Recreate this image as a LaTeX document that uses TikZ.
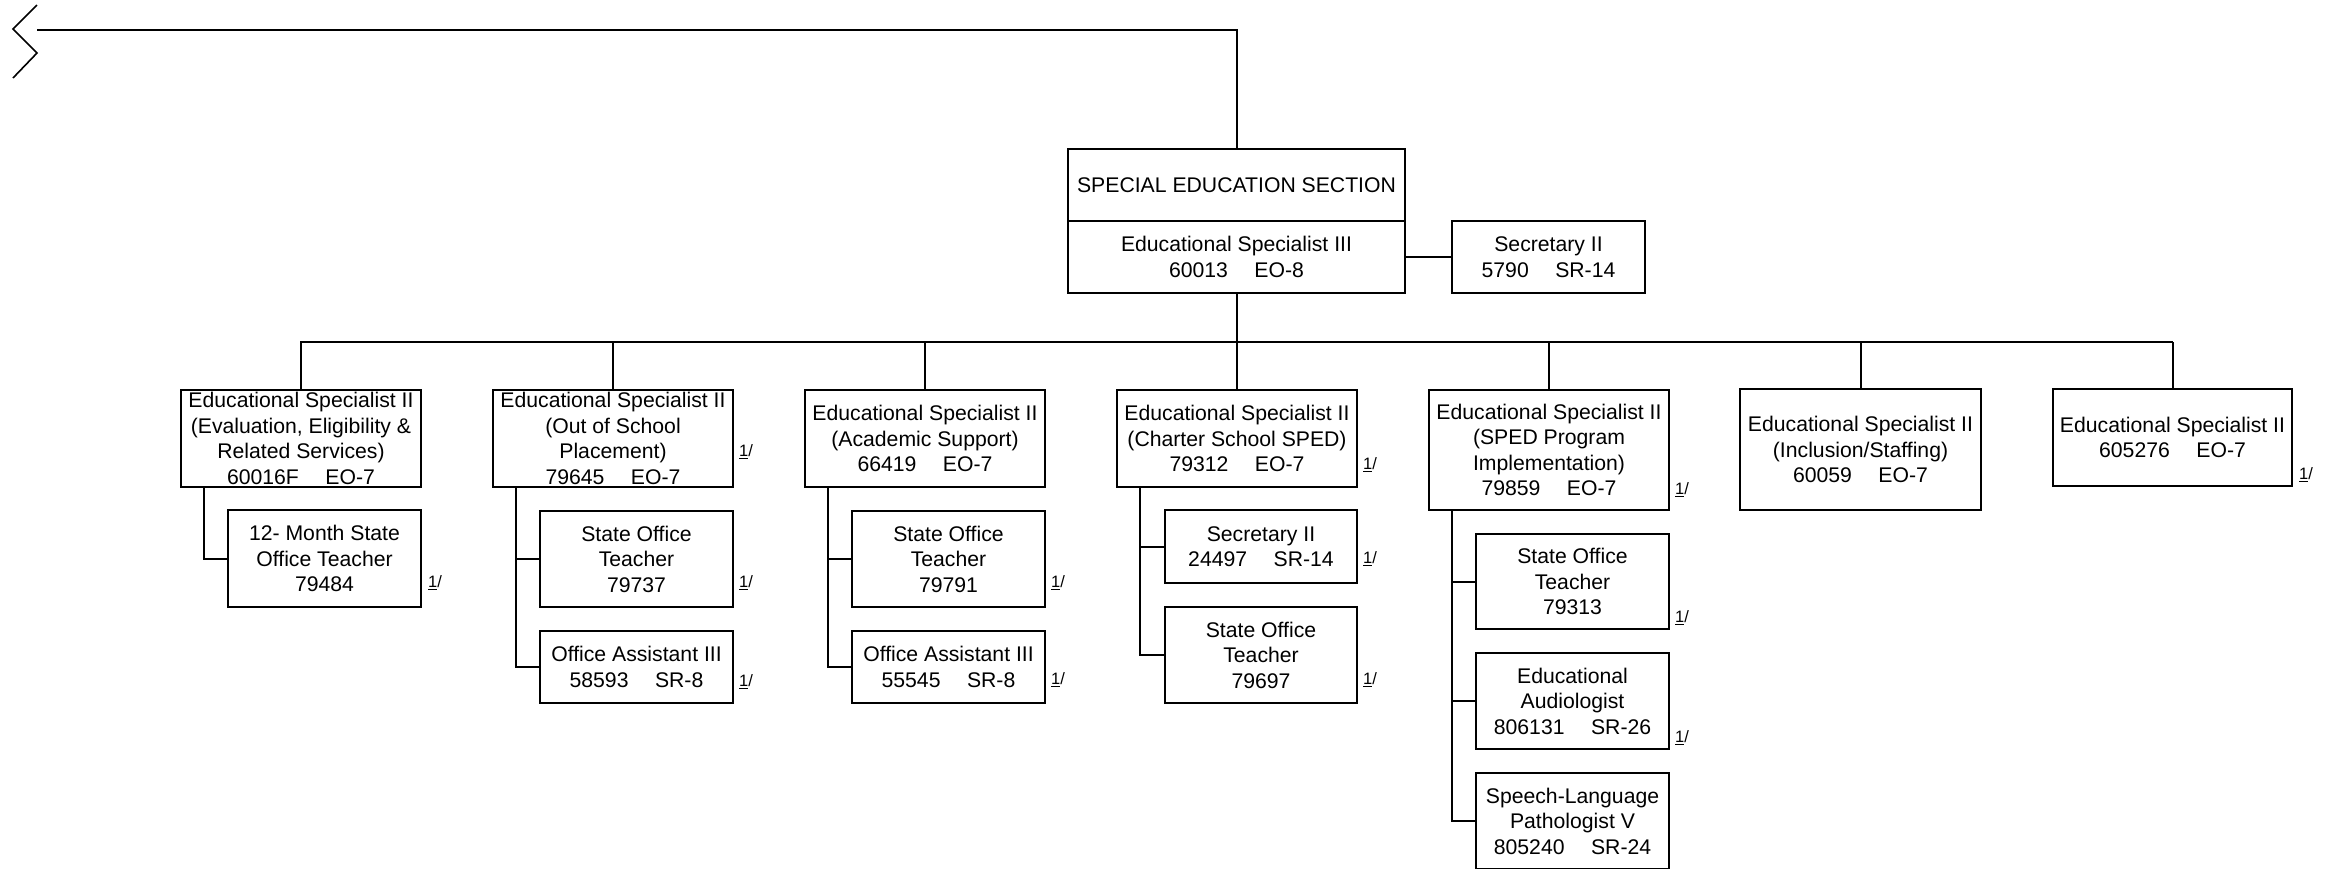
\documentclass[tikz,border=0pt]{standalone}
\usepackage{fontspec}
\setmainfont{Liberation Sans}
\usetikzlibrary{calc}
\newcommand\tabgap{\hspace{1.25em}}
\newcommand\fn{\underline{1}/}
\tikzset{
  box/.style={draw, line width=2.6pt, rectangle, inner sep=0pt, align=center,
    font=\fontsize{21.2}{25.5}\selectfont},
  conn/.style={line width=2pt},
  note/.style={anchor=west, inner sep=0pt, font=\fontsize{16.5}{17}\selectfont}
}
\begin{document}
\begin{tikzpicture}[x=1pt,y=-1pt]
\useasboundingbox (0,0) rectangle (2331,868);
% top
\node[box, minimum width=337pt, minimum height=72pt] (sped) at (1236.5,185) {SPECIAL EDUCATION SECTION};
\node[box, minimum width=337pt, minimum height=72pt] (es3) at (1236.5,257) {Educational Specialist III\\60013\tabgap EO-8};
\node[box, minimum width=193pt, minimum height=72pt] (sec) at (1548.5,257) {Secretary II\\5790\tabgap SR-14};
% level 2
\node[box, minimum width=240pt, minimum height=97pt] (b1) at (301,438.5) {Educational Specialist II\\(Evaluation, Eligibility \&\\Related Services)\\60016F\tabgap EO-7};
\node[box, minimum width=240pt, minimum height=97pt] (b2) at (613,438.5) {Educational Specialist II\\(Out of School\\Placement)\\79645\tabgap EO-7};
\node[box, minimum width=240pt, minimum height=97pt] (b3) at (925,438.5) {Educational Specialist II\\(Academic Support)\\66419\tabgap EO-7};
\node[box, minimum width=240pt, minimum height=97pt] (b4) at (1237,438.5) {Educational Specialist II\\(Charter School SPED)\\79312\tabgap EO-7};
\node[box, minimum width=240pt, minimum height=120pt] (b5) at (1549,450) {Educational Specialist II\\(SPED Program\\Implementation)\\79859\tabgap EO-7};
\node[box, minimum width=241pt, minimum height=121pt] (b6) at (1860.5,449.5) {Educational Specialist II\\(Inclusion/Staffing)\\60059\tabgap EO-7};
\node[box, minimum width=239pt, minimum height=97pt] (b7) at (2172.5,437.5) {Educational Specialist II\\605276\tabgap EO-7};
% children
\node[box, minimum width=193pt, minimum height=97pt] (c1) at (324.5,558.5) {12- Month State\\Office Teacher\\79484};
\node[box, minimum width=193pt, minimum height=96pt] (c2a) at (636.5,559) {State Office\\Teacher\\79737};
\node[box, minimum width=193pt, minimum height=72pt] (c2b) at (636.5,667) {Office Assistant III\\58593\tabgap SR-8};
\node[box, minimum width=193pt, minimum height=96pt] (c3a) at (948.5,559) {State Office\\Teacher\\79791};
\node[box, minimum width=193pt, minimum height=72pt] (c3b) at (948.5,667) {Office Assistant III\\55545\tabgap SR-8};
\node[box, minimum width=192pt, minimum height=73pt] (c4a) at (1261,546.5) {Secretary II\\24497\tabgap SR-14};
\node[box, minimum width=192pt, minimum height=96pt] (c4b) at (1261,655) {State Office\\Teacher\\79697};
\node[box, minimum width=193pt, minimum height=95pt] (c5a) at (1572.5,581.5) {State Office\\Teacher\\79313};
\node[box, minimum width=193pt, minimum height=96pt] (c5b) at (1572.5,701) {Educational\\Audiologist\\806131\tabgap SR-26};
\node[box, minimum width=193pt, minimum height=96pt] (c5c) at (1572.5,821) {Speech-Language\\Pathologist V\\805240\tabgap SR-24};
% footnote marks
\node[note] (n2) at (739,452) {\fn};
\node[note] (n4) at (1363,465) {\fn};
\node[note] (n5) at (1675,490) {\fn};
\node[note] (n7) at (2299,475) {\fn};
\node[note] (nc1) at (428,583) {\fn};
\node[note] (nc2a) at (739,583) {\fn};
\node[note] (nc2b) at (739,682) {\fn};
\node[note] (nc3a) at (1051,583) {\fn};
\node[note] (nc3b) at (1051,680) {\fn};
\node[note] (nc4a) at (1363,559) {\fn};
\node[note] (nc4b) at (1363,680) {\fn};
\node[note] (nc5a) at (1675,618) {\fn};
\node[note] (nc5b) at (1675,738) {\fn};
% top connector with break mark
\coordinate (z) at (37,30);
\draw[conn] (z) -| (sped.north);
\draw[line width=1.6pt] (37,5) -- (13,29) -- (37,53) -- (13,78);
\draw[conn] (es3.east) -- (sec.west);
% bus
\coordinate (busL) at (300,342);
\coordinate (busR) at (2173,342);
\draw[conn] (es3.south) -- (es3.south |- busL);
\draw[conn] (busL) -- (busR);
\foreach \b in {b1,b2,b3,b4,b5,b6,b7}{
  \draw[conn] (\b.north) -- (\b.north |- busL);
}
% child connectors
\draw[conn] ([xshift=24pt]b1.south west) |- (c1.west);
\draw[conn] ([xshift=24pt]b2.south west) |- (c2b.west);
\draw[conn] ([xshift=24pt]b2.south west) |- (c2a.west);
\draw[conn] ([xshift=24pt]b3.south west) |- (c3b.west);
\draw[conn] ([xshift=24pt]b3.south west) |- (c3a.west);
\draw[conn] ([xshift=24pt]b4.south west) |- (c4b.west);
\draw[conn] ([xshift=24pt]b4.south west) |- (c4a.west);
\draw[conn] ([xshift=24pt]b5.south west) |- (c5c.west);
\draw[conn] ([xshift=24pt]b5.south west) |- (c5b.west);
\draw[conn] ([xshift=24pt]b5.south west) |- (c5a.west);
\end{tikzpicture}
\end{document}
